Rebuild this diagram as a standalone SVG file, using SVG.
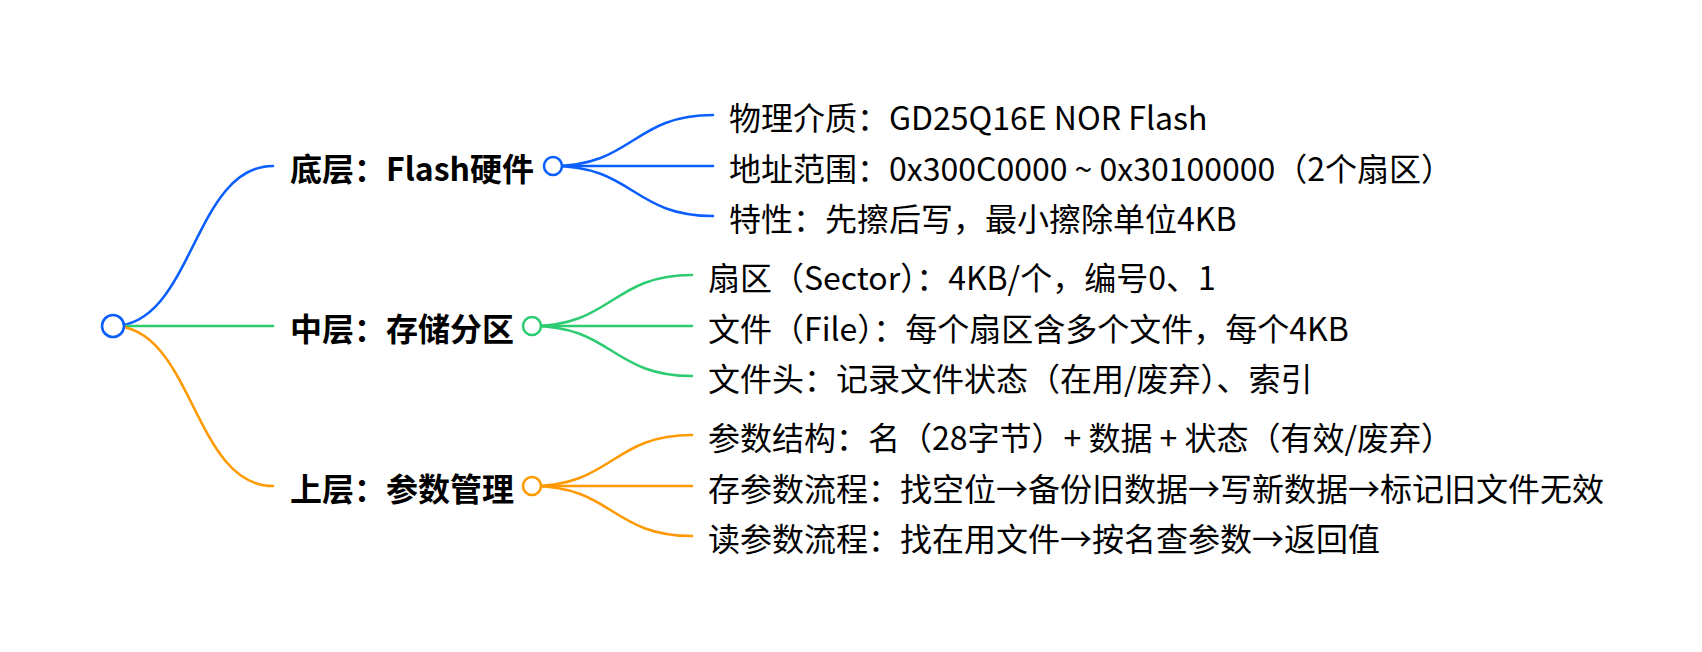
<svg xmlns="http://www.w3.org/2000/svg" width="1702" height="652" viewBox="0 0 1702 652">
<style>
.t{font-family:"Noto Sans CJK SC","Noto Sans",sans-serif;font-size:32px;fill:#000}
.b{font-weight:700}
.c{fill:none;stroke-width:2.6;stroke-linecap:round}
.blue{stroke:#0B5FFF}
.green{stroke:#2ECC71}
.orange{stroke:#FF9900}
.dot{fill:#fff;stroke-width:2.6}
</style>
<rect width="1702" height="652" fill="#fff"/>
<g id="connectors">
<path class="c blue" d="M113,326 C193,326 193,166 273,166"/>
<path class="c green" d="M113,326 L273,326"/>
<path class="c orange" d="M113,326 C193,326 193,486 273,486"/>
<path class="c blue" d="M553,166 C633,166 633,115 713,115"/>
<path class="c blue" d="M553,166 L713,166"/>
<path class="c blue" d="M553,166 C633,166 633,216 713,216"/>
<path class="c green" d="M532,326 C612,326 612,275 692,275"/>
<path class="c green" d="M532,326 L692,326"/>
<path class="c green" d="M532,326 C612,326 612,376 692,376"/>
<path class="c orange" d="M532,486 C612,486 612,435 692,435"/>
<path class="c orange" d="M532,486 L692,486"/>
<path class="c orange" d="M532,486 C612,486 612,536 692,536"/>
</g>
<g id="root"><circle class="dot blue" cx="113" cy="326" r="11"/></g>
<g id="n-bottom"><text class="t b" x="290" y="181">底层：Flash硬件</text><circle class="dot blue" cx="553" cy="166" r="9"/></g>
<g id="n-middle"><text class="t b" x="290" y="341">中层：存储分区</text><circle class="dot green" cx="532" cy="326" r="9"/></g>
<g id="n-top"><text class="t b" x="290" y="501">上层：参数管理</text><circle class="dot orange" cx="532" cy="486" r="9"/></g>
<g id="l1"><text class="t" x="729" y="130">物理介质：GD25Q16E NOR Flash</text></g>
<g id="l2"><text class="t" x="729" y="181">地址范围：0x300C0000 ~ 0x30100000（2个扇区）</text></g>
<g id="l3"><text class="t" x="729" y="231">特性：先擦后写，最小擦除单位4KB</text></g>
<g id="l4"><text class="t" x="708" y="290">扇区（Sector）：4KB/个，编号0、1</text></g>
<g id="l5"><text class="t" x="708" y="341">文件（File）：每个扇区含多个文件，每个4KB</text></g>
<g id="l6"><text class="t" x="708" y="391">文件头：记录文件状态（在用/废弃）、索引</text></g>
<g id="l7"><text class="t" x="708" y="450">参数结构：名（28字节）+ 数据 + 状态（有效/废弃）</text></g>
<g id="l8"><text class="t" x="708" y="501">存参数流程：找空位→备份旧数据→写新数据→标记旧文件无效</text></g>
<g id="l9"><text class="t" x="708" y="551">读参数流程：找在用文件→按名查参数→返回值</text></g>
</svg>
